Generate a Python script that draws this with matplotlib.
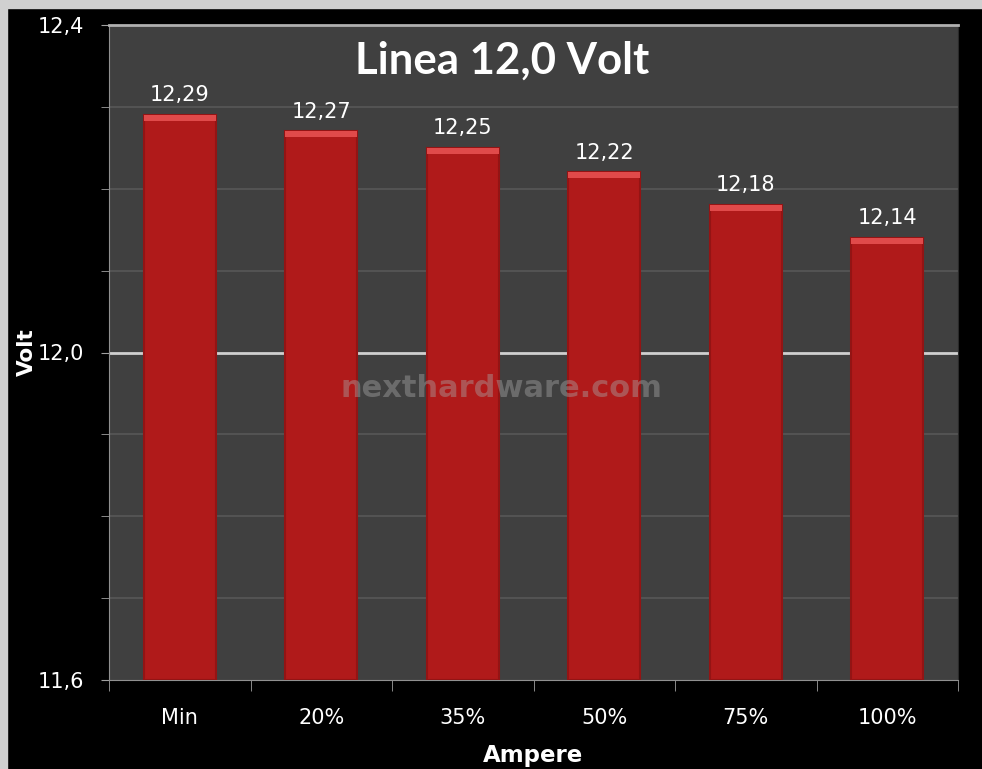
import matplotlib.pyplot as plt
from matplotlib.patches import Rectangle
from matplotlib.ticker import MultipleLocator

# data
categories = ['Min', '20%', '35%', '50%', '75%', '100%']
volts = [12.29, 12.27, 12.25, 12.22, 12.18, 12.14]
value_labels = ['12,29', '12,27', '12,25', '12,22', '12,18', '12,14']
y_ticks = [11.6, 12.0, 12.4]
y_tick_labels = ['11,6', '12,0', '12,4']

fig = plt.figure(figsize=(9.82, 7.69), dpi=100, facecolor='black')

# light grey frame on the top and left edges
fig.patches.append(Rectangle((0, 1 - 8 / 769), 1, 8 / 769, transform=fig.transFigure,
                             color='#d0d0d0', zorder=0))
fig.patches.append(Rectangle((0, 0), 7 / 982, 1, transform=fig.transFigure,
                             color='#d0d0d0', zorder=0))

ax = fig.add_axes([109 / 982, 1 - 680 / 769, 849 / 982, 655 / 769])
ax.set_facecolor('#404040')

x = range(len(categories))
width = 0.51
heights = [v - 11.6 for v in volts]
ax.bar(x, heights, bottom=11.6, width=width, color='#b01a1a', zorder=3)
# darker sides and a lighter bevel on top of every bar
ax.bar(x, heights, bottom=11.6, width=width, color='none',
       edgecolor='#931414', linewidth=1.5, zorder=4)
ax.bar(x, [0.007] * len(volts), bottom=[v - 0.007 for v in volts], width=width,
       color='#e04a4a', zorder=5)

for i, (v, lab) in enumerate(zip(volts, value_labels)):
    ax.text(i, v + 0.012, lab, ha='center', va='bottom', color='white',
            fontsize=15, zorder=6)

ax.set_xlim(-0.5, len(categories) - 0.5)
ax.set_ylim(11.6, 12.4)
ax.set_yticks(y_ticks)
ax.set_yticklabels(y_tick_labels)
ax.yaxis.set_minor_locator(MultipleLocator(0.1))
ax.set_xticks(list(x))
ax.set_xticklabels(categories)
ax.set_xticks([i - 0.5 for i in range(len(categories) + 1)], minor=True)

ax.tick_params(axis='x', which='major', length=0, pad=20, colors='white', labelsize=15)
ax.tick_params(axis='x', which='minor', length=8, color='#a0a0a0', direction='out')
ax.tick_params(axis='y', which='major', length=6, color='#a0a0a0', colors='white',
               labelsize=15, pad=12)
ax.tick_params(axis='y', which='minor', length=6, color='#a0a0a0')
for t in ax.get_yticklabels():
    t.set_color('white')

ax.grid(axis='y', which='minor', color='#585858', linewidth=1.2, zorder=1)
ax.axhline(12.0, color='#d0d0d0', linewidth=2, zorder=2)

ax.spines['left'].set_color('#909090')
ax.spines['bottom'].set_color('#909090')
ax.spines['top'].set_color('#b0b0b0')
ax.spines['top'].set_linewidth(2)
ax.spines['right'].set_color('#2a2a2a')

ax.set_xlabel('Ampere', color='white', fontsize=16.5, fontweight='bold')
ax.xaxis.set_label_coords(0.499, -0.097)
ax.set_ylabel('Volt', color='white', fontsize=15.5, fontweight='bold')
ax.yaxis.set_label_coords(-0.085, 0.5)

ax.text(0.463, 0.945, 'Linea 12,0 Volt', transform=ax.transAxes, ha='center', va='center',
        color='white', fontsize=31.5, fontweight='bold', family='Lato', zorder=7)
ax.text(0.462, 0.445, 'nexthardware.com', transform=ax.transAxes, ha='center', va='center',
        color='#a8a8a8', alpha=0.42, fontsize=22, fontweight='bold', zorder=7)

fig.savefig('out.png', dpi=100, facecolor='black')
